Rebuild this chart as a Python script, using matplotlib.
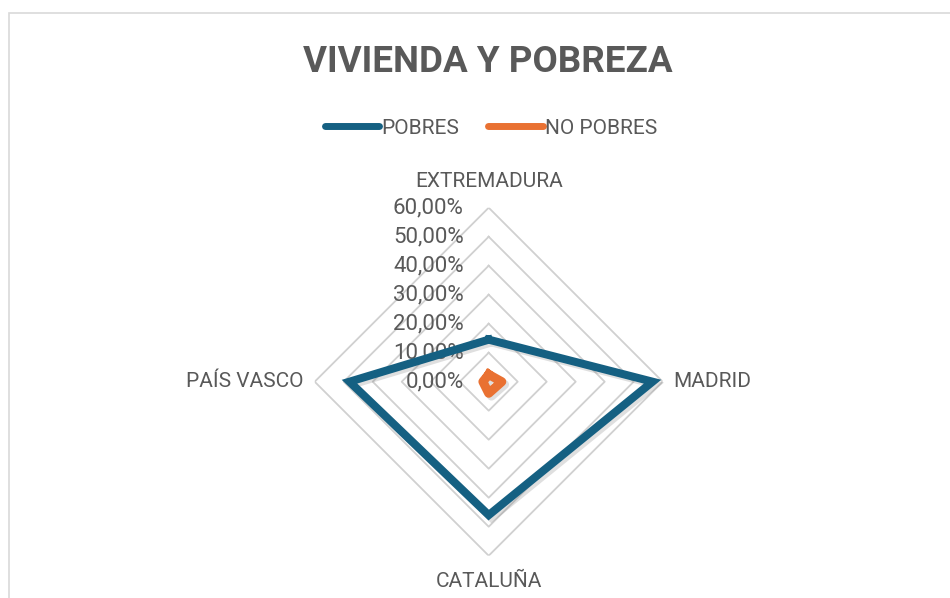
import matplotlib.pyplot as plt
import matplotlib.patheffects as pe
import matplotlib.transforms as mtransforms
from matplotlib.lines import Line2D
from matplotlib.patches import Rectangle
import numpy as np

categories = ["EXTREMADURA", "MADRID", "CATALUÑA", "PAÍS VASCO"]
pobres = [0.145, 0.565, 0.46, 0.48]
no_pobres = [0.025, 0.045, 0.04, 0.02]
levels = [0.0, 0.1, 0.2, 0.3, 0.4, 0.5, 0.6]
level_labels = ["0,00%", "10,00%", "20,00%", "30,00%", "40,00%", "50,00%", "60,00%"]

BLUE = "#156082"
ORANGE = "#E97132"
TEXT = "#595959"
GRID = "#D0D0D0"

plt.rcParams['font.family'] = ['Roboto', 'DejaVu Sans']

fig = plt.figure(figsize=(9.5, 5.98), dpi=100)
fig.patches.append(Rectangle((9 / 950, -0.1), 1.2, 1 - 13 / 598 + 0.1,
                             transform=fig.transFigure, fill=False,
                             edgecolor="#D9D9D9", linewidth=1.2))

cx, cy, rad = 488.7 / 950, 1 - 381.7 / 598, 174
ax = fig.add_axes([cx - rad / 950, cy - rad / 598, 2 * rad / 950, 2 * rad / 598],
                  projection='polar')
ax.set_theta_offset(np.pi / 2)
ax.set_theta_direction(-1)
ax.set_ylim(0, 0.6)
ax.axis('off')

angles = np.linspace(0, 2 * np.pi, len(categories), endpoint=False)
closed = np.append(angles, angles[0])

for lv in levels[1:]:
    ax.plot(closed, [lv] * len(closed), color=GRID, lw=1.3, zorder=1)

shadow = [pe.SimpleLineShadow(offset=(2, -2), alpha=0.25, shadow_color='gray'), pe.Normal()]
ax.plot(closed, pobres + pobres[:1], color=BLUE, lw=5.8, solid_joinstyle='miter',
        zorder=3, path_effects=shadow, clip_on=False)
ax.plot(closed, no_pobres + no_pobres[:1], color=ORANGE, lw=6.5, solid_joinstyle='round',
        zorder=3, path_effects=shadow, clip_on=False)

# radial tick labels to the left of the top axis
off = mtransforms.offset_copy(ax.transData, fig=fig, x=-25, y=0, units='dots')
for lv, lab in zip(levels, level_labels):
    ax.text(0, lv, lab, transform=off, ha='right', va='center',
            fontsize=16, color=TEXT, zorder=2)

# category labels
pads = [(0, 26), (11, 0), (0, -26), (-11, 0)]
aligns = [('center', 'center'), ('left', 'center'), ('center', 'center'), ('right', 'center')]
for ang, cat, (dx, dy), (ha, va) in zip(angles, categories, pads, aligns):
    t = mtransforms.offset_copy(ax.transData, fig=fig, x=dx, y=dy, units='dots')
    ax.text(ang, 0.6, cat, transform=t, ha=ha, va=va, fontsize=15, color=TEXT)

fig.text(488 / 950, 1 - 62 / 598, "VIVIENDA Y POBREZA", ha='center', va='center',
         fontsize=26.5, fontweight='bold', color=TEXT)

handles = [Line2D([], [], color=BLUE, lw=5, solid_capstyle='round'),
           Line2D([], [], color=ORANGE, lw=5, solid_capstyle='round')]
leg = fig.legend(handles, ["POBRES", "NO POBRES"], loc='center',
                 bbox_to_anchor=(491 / 950, 1 - 128 / 598), ncol=2, frameon=False,
                 fontsize=15, handlelength=2.6, handletextpad=0.1, columnspacing=1.4)
for t in leg.get_texts():
    t.set_color(TEXT)

fig.savefig("out.png", dpi=100)
